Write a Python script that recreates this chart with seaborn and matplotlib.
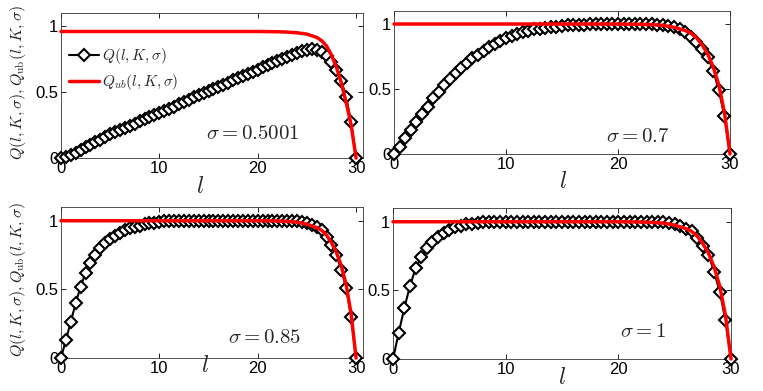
import numpy as np
import matplotlib
matplotlib.use('Agg')
import matplotlib.pyplot as plt
import seaborn as sns

sns.set_theme(style='ticks')
plt.rcParams['font.family'] = ['Liberation Sans', 'DejaVu Sans']
plt.rcParams['mathtext.fontset'] = 'cm'

# l grid (step 0.5)
l_vals = [0, 0.5, 1, 1.5, 2, 2.5, 3, 3.5, 4, 4.5, 5, 5.5, 6, 6.5, 7, 7.5, 8, 8.5, 9, 9.5,
          10, 10.5, 11, 11.5, 12, 12.5, 13, 13.5, 14, 14.5, 15, 15.5, 16, 16.5, 17, 17.5,
          18, 18.5, 19, 19.5, 20, 20.5, 21, 21.5, 22, 22.5, 23, 23.5, 24, 24.5, 25, 25.5,
          26, 26.5, 27, 27.5, 28, 28.5, 29, 29.5, 30]

# Q(l,K,sigma)
q_05001 = [0.0, 0.01, 0.025, 0.04, 0.06, 0.08, 0.10, 0.12, 0.14, 0.16, 0.18, 0.195, 0.21,
           0.225, 0.245, 0.26, 0.28, 0.295, 0.31, 0.33, 0.345, 0.36, 0.375, 0.39, 0.41,
           0.425, 0.44, 0.46, 0.475, 0.49, 0.505, 0.52, 0.54, 0.555, 0.57, 0.59, 0.605,
           0.62, 0.64, 0.655, 0.67, 0.69, 0.705, 0.72, 0.735, 0.75, 0.765, 0.78, 0.795,
           0.81, 0.82, 0.825, 0.82, 0.805, 0.775, 0.725, 0.665, 0.585, 0.46, 0.27, 0.0]
q_07 = [0.0, 0.056, 0.12, 0.185, 0.25, 0.31, 0.365, 0.43, 0.48, 0.53, 0.58, 0.62, 0.66,
        0.70, 0.735, 0.765, 0.79, 0.82, 0.85, 0.87, 0.89, 0.91, 0.925, 0.94, 0.95, 0.96,
        0.965, 0.97, 0.975, 0.98, 0.985, 0.99, 0.99, 0.995, 0.995,
        1.0, 1.0, 1.0, 1.0, 1.0, 1.0, 1.0, 1.0, 1.0, 1.0, 1.0, 1.0,
        0.995, 0.99, 0.985, 0.975, 0.96, 0.94, 0.90, 0.86, 0.81, 0.75, 0.64, 0.49, 0.29, 0.0]
q_085 = [0.0, 0.13, 0.265, 0.40, 0.52, 0.62, 0.69, 0.75, 0.80, 0.835, 0.865, 0.89, 0.91,
         0.93, 0.945, 0.955, 0.965, 0.975, 0.98, 0.985, 0.99, 0.995,
         1.0, 1.0, 1.0, 1.0, 1.0, 1.0, 1.0, 1.0, 1.0, 1.0, 1.0, 1.0, 1.0,
         1.0, 1.0, 1.0, 1.0, 1.0, 1.0, 1.0, 1.0, 1.0, 1.0, 1.0, 1.0, 1.0,
         0.995, 0.99, 0.98, 0.97, 0.955, 0.93, 0.88, 0.82, 0.75, 0.64, 0.51, 0.30, 0.0]
q_1 = [0.0, 0.19, 0.37, 0.53, 0.66, 0.74, 0.81, 0.855, 0.89, 0.92, 0.94, 0.96, 0.97,
       0.98, 0.985, 0.99, 0.995,
       1.0, 1.0, 1.0, 1.0, 1.0, 1.0, 1.0, 1.0, 1.0, 1.0, 1.0, 1.0, 1.0, 1.0, 1.0,
       1.0, 1.0, 1.0, 1.0, 1.0, 1.0, 1.0, 1.0, 1.0, 1.0, 1.0, 1.0, 1.0, 1.0, 1.0, 1.0,
       0.995, 0.99, 0.98, 0.97, 0.95, 0.93, 0.88, 0.82, 0.76, 0.635, 0.49, 0.285, 0.0]

# Q_ub(l,K,sigma) upper bound curve
l_ub = [0, 20, 22, 23, 24, 25, 26, 26.5, 27, 27.5, 28, 28.5, 29, 29.5, 30]
qub_05001 = [0.96, 0.96, 0.958, 0.955, 0.95, 0.94, 0.915, 0.89, 0.85, 0.78, 0.69, 0.57, 0.42, 0.25, 0.0]
qub_other = [1.0, 1.0, 0.998, 0.995, 0.99, 0.975, 0.95, 0.93, 0.895, 0.84, 0.77, 0.67, 0.53, 0.32, 0.0]

panels = [
    # q, qub, sigma text, axes rect, xlim max, xlabel pos, sigma pos
    (q_05001, qub_05001, r'$\sigma = 0.5001$', [0.0799, 0.5959, 0.3958, 0.3708], 30.7, (0.46, -0.2), (0.636, 0.172)),
    (q_07, qub_other, r'$\sigma = 0.7$', [0.5164, 0.6061, 0.4404, 0.3657], 30.0, (0.503, -0.196), (0.726, 0.119)),
    (q_085, qub_other, r'$\sigma = 0.85$', [0.0799, 0.0844, 0.3958, 0.3862], 30.7, (0.477, -0.053), (0.675, 0.139)),
    (q_1, qub_other, r'$\sigma = 1$', [0.5151, 0.0818, 0.4430, 0.3862], 30.0, (0.50, -0.126), (0.74, 0.179)),
]

fig = plt.figure(figsize=(7.63, 3.91), dpi=100)

for i, (q, qub, sig, rect, xmax, xl_pos, sig_pos) in enumerate(panels):
    ax = fig.add_axes(rect)
    sns.lineplot(x=l_vals, y=q, ax=ax, color='black', lw=1.5, marker='D', markersize=6.5,
                 markerfacecolor='white', markeredgecolor='black', markeredgewidth=1.5,
                 label=r'$Q(l,K,\sigma)$', legend=False, zorder=4, clip_on=False)
    sns.lineplot(x=l_ub, y=qub, ax=ax, color='red', lw=2.5,
                 label=r'$Q_{ub}(l,K,\sigma)$', legend=False, zorder=5, clip_on=False)
    ax.set_xlim(0, xmax)
    ax.set_ylim(0, 1.1)
    ax.set_xticks([0, 10, 20, 30])
    ax.set_yticks([0, 0.5, 1])
    ax.set_yticklabels(['0', '0.5', '1'])
    ax.tick_params(direction='in', top=True, right=True, length=3.5, width=0.6,
                   labelsize=12, pad=2, colors='black')
    for s in ax.spines.values():
        s.set_linewidth(0.6)
        s.set_color('#333333')
    ax.set_xlabel(r'$l$', fontsize=17)
    ax.xaxis.label.set_va('center')
    ax.xaxis.set_label_coords(*xl_pos)
    if i in (0, 2):
        ax.set_ylabel(r'$Q(l,K,\sigma),Q_{\mathrm{ub}}(l,K,\sigma)$', fontsize=11.5)
        ax.yaxis.label.set_va('center')
        ax.yaxis.set_label_coords(-0.142, 0.52)
    else:
        ax.set_ylabel('')
    ax.text(sig_pos[0], sig_pos[1], sig, transform=ax.transAxes, ha='center',
            va='center', fontsize=15)
    if i == 0:
        ax.legend(loc='upper left', bbox_to_anchor=(0.005, 0.815), frameon=False,
                  fontsize=11, handlelength=2.0, handletextpad=0.2,
                  labelspacing=0.4, borderaxespad=0)

fig.savefig('out.png', dpi=100)
